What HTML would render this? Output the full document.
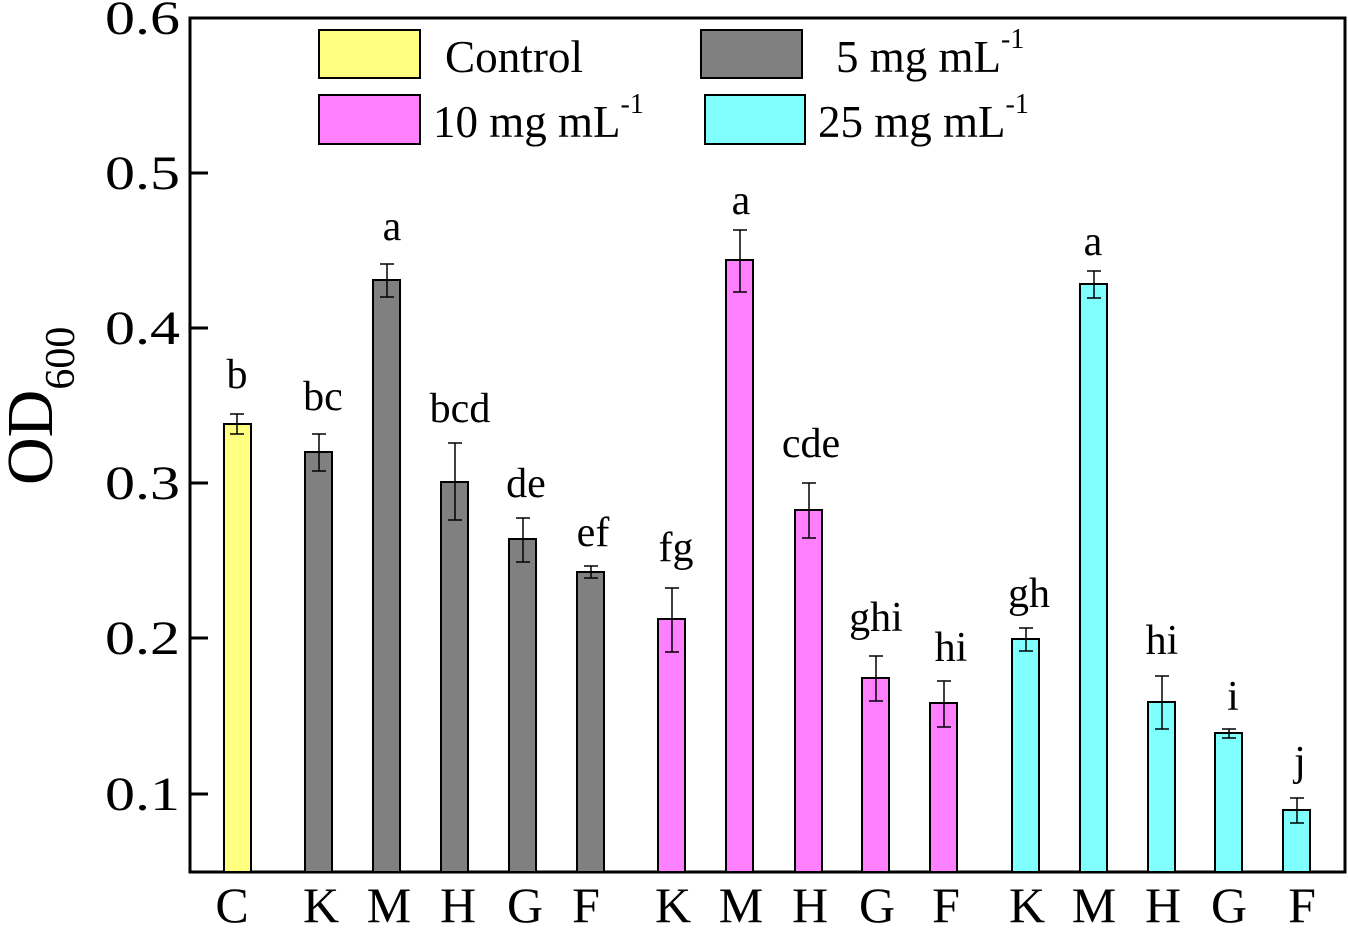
<!DOCTYPE html>
<html><head><meta charset="utf-8"><style>
html,body{margin:0;padding:0;background:#fff;}
svg text{font-family:"Liberation Serif",serif;fill:#000;}
</style></head><body>
<svg width="1348" height="924" viewBox="0 0 1348 924" xmlns="http://www.w3.org/2000/svg">
<rect x="190" y="18" width="1155" height="854" fill="none" stroke="#000" stroke-width="3"/>
<g stroke="#000" stroke-width="3">
<line x1="190" y1="173" x2="208" y2="173"/>
<line x1="190" y1="328" x2="208" y2="328"/>
<line x1="190" y1="483" x2="208" y2="483"/>
<line x1="190" y1="638" x2="208" y2="638"/>
<line x1="190" y1="794" x2="208" y2="794"/>
</g>
<g font-size="48">
<text x="105" y="34" textLength="75" lengthAdjust="spacingAndGlyphs">0.6</text>
<text x="105" y="189" textLength="75" lengthAdjust="spacingAndGlyphs">0.5</text>
<text x="105" y="344" textLength="75" lengthAdjust="spacingAndGlyphs">0.4</text>
<text x="105" y="499" textLength="75" lengthAdjust="spacingAndGlyphs">0.3</text>
<text x="105" y="654" textLength="75" lengthAdjust="spacingAndGlyphs">0.2</text>
<text x="105" y="810" textLength="75" lengthAdjust="spacingAndGlyphs">0.1</text>
</g>
<text transform="translate(52,485) rotate(-90)" font-size="66">OD<tspan font-size="42" dy="22">600</tspan></text>
<g stroke="#000" stroke-width="2">
<rect x="224" y="424" width="27" height="448" fill="#ffff80"/>
<rect x="305" y="452" width="27" height="420" fill="#808080"/>
<rect x="373" y="280" width="27" height="592" fill="#808080"/>
<rect x="441" y="482" width="27" height="390" fill="#808080"/>
<rect x="509" y="539" width="27" height="333" fill="#808080"/>
<rect x="577" y="572" width="27" height="300" fill="#808080"/>
<rect x="658" y="619" width="27" height="253" fill="#ff80ff"/>
<rect x="726" y="260" width="27" height="612" fill="#ff80ff"/>
<rect x="795" y="510" width="27" height="362" fill="#ff80ff"/>
<rect x="862" y="678" width="27" height="194" fill="#ff80ff"/>
<rect x="930" y="703" width="27" height="169" fill="#ff80ff"/>
<rect x="1012" y="639" width="27" height="233" fill="#80ffff"/>
<rect x="1080" y="284" width="27" height="588" fill="#80ffff"/>
<rect x="1148" y="702" width="27" height="170" fill="#80ffff"/>
<rect x="1215" y="733" width="27" height="139" fill="#80ffff"/>
<rect x="1283" y="810" width="27" height="62" fill="#80ffff"/>
</g>
<g stroke="#000" stroke-width="1.5" fill="none">
<path d="M237 414V434M230 414H244M230 434H244"/>
<path d="M319 434V471M312 434H326M312 471H326"/>
<path d="M387 264V297M380 264H394M380 297H394"/>
<path d="M455 443V520M448 443H462M448 520H462"/>
<path d="M523 518V562M516 518H530M516 562H530"/>
<path d="M591 566V578M584 566H598M584 578H598"/>
<path d="M672 588V652M665 588H679M665 652H679"/>
<path d="M740 230V292M733 230H747M733 292H747"/>
<path d="M809 483V538M802 483H816M802 538H816"/>
<path d="M876 656V701M869 656H883M869 701H883"/>
<path d="M944 681V727M937 681H951M937 727H951"/>
<path d="M1026 628V651M1019 628H1033M1019 651H1033"/>
<path d="M1094 271V298M1087 271H1101M1087 298H1101"/>
<path d="M1162 676V729M1155 676H1169M1155 729H1169"/>
<path d="M1229 729V738M1222 729H1236M1222 738H1236"/>
<path d="M1297 798V823M1290 798H1304M1290 823H1304"/>
</g>
<g font-size="42" text-anchor="middle">
<text x="237" y="388">b</text>
<text x="323" y="410">bc</text>
<text x="392" y="240">a</text>
<text x="460" y="422">bcd</text>
<text x="526" y="497">de</text>
<text x="593" y="546">ef</text>
<text x="676" y="561">fg</text>
<text x="741" y="214">a</text>
<text x="811" y="457">cde</text>
<text x="876" y="631">ghi</text>
<text x="951" y="661">hi</text>
<text x="1029" y="607">gh</text>
<text x="1093" y="255">a</text>
<text x="1162" y="654">hi</text>
<text x="1233" y="710">i</text>
<text x="1300" y="775">j</text>
</g>
<g font-size="50" text-anchor="middle">
<text x="232" y="922">C</text>
<text x="321" y="922">K</text>
<text x="389" y="922">M</text>
<text x="458" y="922">H</text>
<text x="525" y="922">G</text>
<text x="586" y="922">F</text>
<text x="673" y="922">K</text>
<text x="741" y="922">M</text>
<text x="810" y="922">H</text>
<text x="877" y="922">G</text>
<text x="946" y="922">F</text>
<text x="1027" y="922">K</text>
<text x="1094" y="922">M</text>
<text x="1163" y="922">H</text>
<text x="1229" y="922">G</text>
<text x="1302" y="922">F</text>
</g>
<g stroke="#000" stroke-width="2">
<rect x="319" y="30" width="101" height="48" fill="#ffff80"/>
<rect x="319" y="95" width="101" height="49" fill="#ff80ff"/>
<rect x="701" y="30" width="101" height="48" fill="#808080"/>
<rect x="705" y="95" width="100" height="49" fill="#80ffff"/>
</g>
<g font-size="45">
<text x="445" y="72" textLength="138" lengthAdjust="spacingAndGlyphs">Control</text>
<text x="836" y="72">5 mg mL<tspan font-size="28" dy="-24">-1</tspan></text>
<text x="433" y="137">10 mg mL<tspan font-size="28" dy="-24">-1</tspan></text>
<text x="818" y="137">25 mg mL<tspan font-size="28" dy="-24">-1</tspan></text>
</g>
</svg>
</body></html>
